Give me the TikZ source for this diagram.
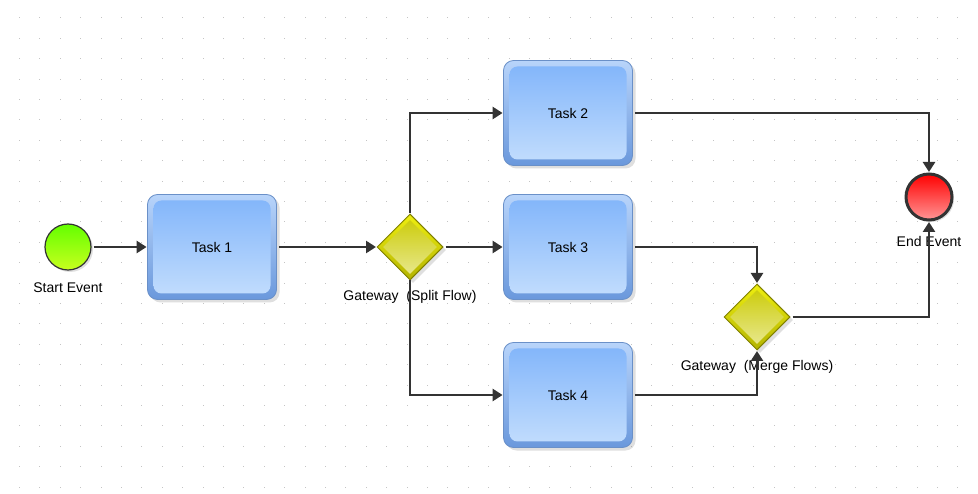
\documentclass[tikz,border=0pt]{standalone}
\usepackage{fontspec}
\setmainfont{Liberation Sans}
\usetikzlibrary{shapes.geometric,arrows.meta,shadows}
\definecolor{linec}{HTML}{333333}
\definecolor{taskedge}{HTML}{6A90C8}
\definecolor{tasktopo}{HTML}{B8D4FA}
\definecolor{taskboto}{HTML}{6A98DC}
\definecolor{tasktopi}{HTML}{80B4FA}
\definecolor{taskboti}{HTML}{C4DEFD}
\definecolor{gwedge}{HTML}{808000}
\definecolor{gwtop}{HTML}{EEEE10}
\definecolor{gwbot}{HTML}{B4B400}
\definecolor{gwtopi}{HTML}{CACA00}
\definecolor{gwboti}{HTML}{EAEA98}
\definecolor{dotc}{HTML}{C4C4C4}
\tikzset{
  x=1pt, y=-1pt,
  lbl/.style={font=\fontsize{14}{16}\selectfont, inner sep=0pt, text=black},
  task/.style={rectangle, rounded corners=10pt, minimum width=129pt, minimum height=105pt,
    draw=taskedge, line width=0.8pt, top color=tasktopo, bottom color=taskboto,
    drop shadow={shadow xshift=3pt, shadow yshift=-3pt, opacity=0.25},
    path picture={\shade[top color=tasktopi, bottom color=taskboti, rounded corners=8pt]
      ([shift={(6pt,-6pt)}]path picture bounding box.north west) rectangle
      ([shift={(-6pt,6pt)}]path picture bounding box.south east);},
    font=\fontsize{14}{16}\selectfont},
  gw/.style={diamond, aspect=1, inner sep=0pt, minimum width=66pt, minimum height=66pt,
    draw=gwedge, line width=1pt, top color=gwtop, bottom color=gwbot,
    drop shadow={shadow xshift=3pt, shadow yshift=-3pt, opacity=0.25},
    path picture={\shade[top color=gwtopi, bottom color=gwboti]
      ([yshift=-6pt]path picture bounding box.north) -- ([xshift=-6pt]path picture bounding box.east)
      -- ([yshift=6pt]path picture bounding box.south) -- ([xshift=6pt]path picture bounding box.west) -- cycle;}},
  startev/.style={circle, minimum size=46pt, inner sep=0pt, draw=linec, line width=1.2pt,
    top color={rgb,255:red,100;green,255;blue,0}, bottom color={rgb,255:red,200;green,255;blue,30},
    drop shadow={shadow xshift=2pt, shadow yshift=-2pt, opacity=0.25}},
  endev/.style={circle, minimum size=46pt, inner sep=0pt, draw=linec, line width=3pt,
    top color={rgb,255:red,255;green,0;blue,0}, bottom color={rgb,255:red,255;green,150;blue,150},
    drop shadow={shadow xshift=2pt, shadow yshift=-2pt, opacity=0.25}},
  flow/.style={draw=linec, line width=2.6pt, -{Triangle[length=10pt,width=12pt]}, shorten >=0.5pt, shorten <=2pt}
}
\begin{document}
\begin{tikzpicture}
\fill[white] (0,0) rectangle (978,494);
\useasboundingbox (0,0) rectangle (978,494);
% grid dots
\foreach \i in {0,...,47} {
  \foreach \j in {0,...,23} {
    \fill[dotc] ({19.5+20.4*\i-0.5},{18+20.4*\j-0.5}) rectangle ++(1,1);
  }
}
% nodes
\node[startev] (s) at (68,247) {};
\node[lbl] (sl) at (68,288) {Start Event};
\node[task] (t1) at (212,247) {Task 1};
\node[gw] (g1) at (410,247) {};
\node[lbl] (g1l) at (410,297) {Gateway\ \ (Split Flow)};
\node[task] (t2) at (568,113) {Task 2};
\node[task] (t3) at (568,247) {Task 3};
\node[task] (t4) at (568,395) {Task 4};
\node[gw] (g2) at (757,317) {};
\node[lbl] (g2l) at (757,367) {Gateway\ \ (Merge Flows)};
\node[endev] (e) at (929,197) {};
\node[lbl] (el) at (929,241) {End Event};
% flows
\draw[flow] (s) -- (t1);
\draw[flow] (t1) -- (g1);
\draw[flow, shorten <=0pt] (g1.north) |- (t2.west);
\draw[flow] (g1.east) -- (t3.west);
\draw[flow, shorten <=0pt] (g1.south) |- (t4.west);
\draw[flow] (t2.east) -| (e.north);
\draw[flow] (t3.east) -| (g2.north);
\draw[flow] (t4.east) -| (g2.south);
\draw[flow] (g2.east) -| (e.south);
\end{tikzpicture}
\end{document}
